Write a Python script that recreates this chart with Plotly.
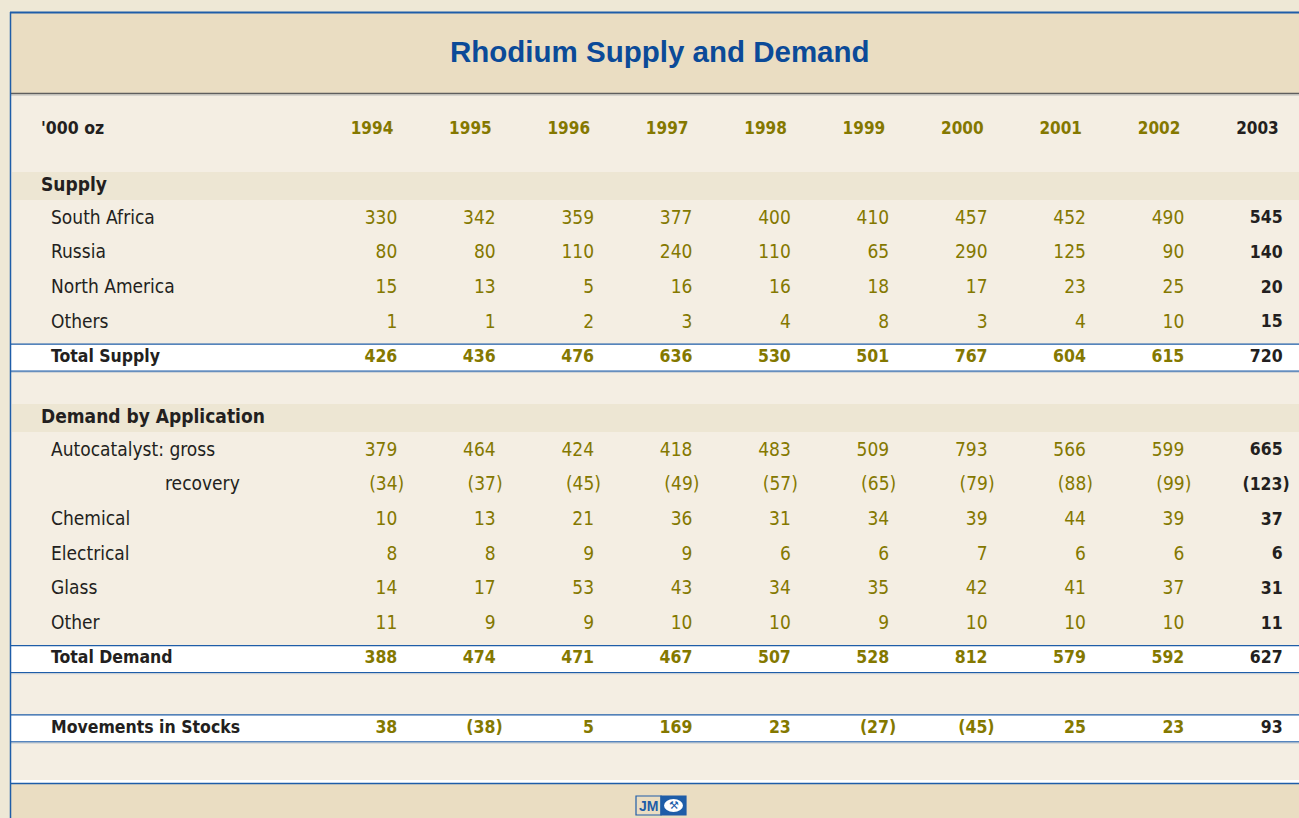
import plotly.graph_objects as go

# Rhodium supply and demand, '000 oz
years = [1994, 1995, 1996, 1997, 1998, 1999, 2000, 2001, 2002, 2003]

south_africa = [330, 342, 359, 377, 400, 410, 457, 452, 490, 545]
russia = [80, 80, 110, 240, 110, 65, 290, 125, 90, 140]
north_america = [15, 13, 5, 16, 16, 18, 17, 23, 25, 20]
others_supply = [1, 1, 2, 3, 4, 8, 3, 4, 10, 15]
total_supply = [426, 436, 476, 636, 530, 501, 767, 604, 615, 720]

autocat_gross = [379, 464, 424, 418, 483, 509, 793, 566, 599, 665]
autocat_recovery = [-34, -37, -45, -49, -57, -65, -79, -88, -99, -123]
chemical = [10, 13, 21, 36, 31, 34, 39, 44, 39, 37]
electrical = [8, 8, 9, 9, 6, 6, 7, 6, 6, 6]
glass = [14, 17, 53, 43, 34, 35, 42, 41, 37, 31]
other_demand = [11, 9, 9, 10, 10, 9, 10, 10, 10, 11]
total_demand = [388, 474, 471, 467, 507, 528, 812, 579, 592, 627]

stock_movements = [38, -38, 5, 169, 23, -27, -45, 25, 23, 93]

# table structure: (kind, label, values)
rows = [
    ("section", "Supply", None),
    ("item", "South Africa", south_africa),
    ("item", "Russia", russia),
    ("item", "North America", north_america),
    ("item", "Others", others_supply),
    ("total", "Total Supply", total_supply),
    ("spacer", "", None),
    ("section", "Demand by Application", None),
    ("item", "Autocatalyst: gross", autocat_gross),
    ("subitem", "recovery", autocat_recovery),
    ("item", "Chemical", chemical),
    ("item", "Electrical", electrical),
    ("item", "Glass", glass),
    ("item", "Other", other_demand),
    ("total", "Total Demand", total_demand),
    ("spacer2", "", None),
    ("total", "Movements in Stocks", stock_movements),
]

# colours / fonts
OUTER = "#EEE8D6"
BAND = "#EADDC2"
BODY = "#F4EEE3"
SECTION = "#EDE6D3"
BLUE = "#1E5DA8"
TITLE_BLUE = "#0B4A98"
OLIVE = "#847800"
DARK = "#231F20"
FONT = "DejaVu Sans Condensed, Liberation Sans Narrow, sans-serif"

REG = 19      # regular rows
BOLD = 17.5   # bold totals
HEAD = 17     # year headings

W, H = 1299, 818
heights = {"section": 28, "item": 34.7, "subitem": 34.7, "total": 34.7,
           "spacer": 29, "spacer2": 34.7}

col_right = [397.3 + i * 98.38 for i in range(len(years))]
paren = 7

fig = go.Figure()
shapes = []

# frame, title band, body, footer
shapes.append(dict(type="rect", x0=10, x1=W + 5, y0=12, y1=94, fillcolor=BAND, line_width=0, layer="below"))
shapes.append(dict(type="rect", x0=11, x1=W + 5, y0=95, y1=781, fillcolor=BODY, line_width=0, layer="below"))
shapes.append(dict(type="rect", x0=11, x1=W + 5, y0=780, y1=783, fillcolor="white", line_width=0, layer="below"))
shapes.append(dict(type="rect", x0=10, x1=W + 5, y0=784, y1=H + 5, fillcolor=BAND, line_width=0, layer="below"))
shapes.append(dict(type="line", x0=10, x1=W + 5, y0=12.5, y1=12.5, line=dict(color=BLUE, width=2)))
shapes.append(dict(type="line", x0=10, x1=W + 5, y0=93.5, y1=93.5, line=dict(color="#5E5E5E", width=1.5)))
shapes.append(dict(type="line", x0=10, x1=W + 5, y0=95, y1=95, line=dict(color="#B8B8B8", width=1)))
shapes.append(dict(type="line", x0=10, x1=W + 5, y0=783.5, y1=783.5, line=dict(color=BLUE, width=1.5)))

groups = {}


def add_text(key, x, y, text, pos):
    g = groups.setdefault(key, dict(x=[], y=[], text=[], pos=[]))
    g["x"].append(x)
    g["y"].append(y)
    g["text"].append(text)
    g["pos"].append(pos)


def fmt(v):
    return f"({-v})" if v < 0 else str(v)


# header row
header_y = 130
add_text((BOLD, "bold", DARK), 41, header_y, "'000 oz", "middle right")
for i, yr in enumerate(years):
    colr = DARK if i == len(years) - 1 else OLIVE
    add_text((HEAD, "bold", colr), col_right[i] - 4, header_y, str(yr), "middle left")

y = 172
for kind, label, vals in rows:
    h = heights[kind]
    yc = y + h / 2
    if kind == "section":
        shapes.append(dict(type="rect", x0=12, x1=W + 5, y0=y, y1=y + h, fillcolor=SECTION, line_width=0, layer="below"))
        add_text((REG, "bold", DARK), 41, yc, label, "middle right")
        y += 1.5
    elif kind in ("item", "subitem"):
        lx = 165 if kind == "subitem" else 51
        add_text((REG, "normal", DARK), lx, yc, label, "middle right")
    elif kind == "total":
        b0, b1 = yc - 13.5, yc + 13.5
        shapes.append(dict(type="rect", x0=11, x1=W + 5, y0=b0, y1=b1, fillcolor="white", line_width=0, layer="below"))
        shapes.append(dict(type="line", x0=10, x1=W + 5, y0=b0, y1=b0, line=dict(color=BLUE, width=1.2)))
        shapes.append(dict(type="line", x0=10, x1=W + 5, y0=b1, y1=b1, line=dict(color=BLUE, width=1.2)))
        shapes.append(dict(type="line", x0=10, x1=W + 5, y0=b1 + 1.2, y1=b1 + 1.2, line=dict(color="#C9CFD6", width=1)))
        add_text((BOLD, "bold", DARK), 51, yc, label, "middle right")
    if vals is not None:
        for i, v in enumerate(vals):
            last = i == len(vals) - 1
            bold = kind == "total" or last
            colr = DARK if last else OLIVE
            xr = col_right[i] + (paren if v < 0 else 0)
            key = (BOLD, "bold", colr) if bold else (REG, "normal", colr)
            add_text(key, xr, yc, fmt(v), "middle left")
    y += h

# left frame line
shapes.append(dict(type="line", x0=10.5, x1=10.5, y0=12, y1=H + 5, line=dict(color=BLUE, width=1.5)))

# JM logo
shapes.append(dict(type="rect", x0=636, x1=661, y0=796, y1=815, fillcolor=BAND, line=dict(color=BLUE, width=1.2)))
shapes.append(dict(type="rect", x0=661, x1=686, y0=796, y1=815, fillcolor=BLUE, line=dict(color=BLUE, width=1.2)))
shapes.append(dict(type="circle", x0=664, x1=683, y0=799, y1=812, fillcolor="white", line_width=0))

for (size, weight, colr), g in groups.items():
    fig.add_trace(go.Scatter(
        x=g["x"], y=g["y"], text=g["text"], mode="text", textposition=g["pos"],
        textfont=dict(family=FONT, size=size, color=colr, weight=weight),
        hoverinfo="skip", showlegend=False, cliponaxis=False,
    ))

fig.add_annotation(x=660, y=51, xref="x", yref="y", text="<b>Rhodium Supply and Demand</b>",
                   showarrow=False, font=dict(family="Liberation Sans, Arial, sans-serif", size=29.5, color=TITLE_BLUE))
fig.add_annotation(x=648.5, y=805.5, xref="x", yref="y", text="<b>JM</b>", showarrow=False,
                   font=dict(family="Liberation Sans, Arial, sans-serif", size=14, color=BLUE))
fig.add_annotation(x=673.5, y=805.5, xref="x", yref="y", text="⚒", showarrow=False,
                   font=dict(family="DejaVu Sans", size=11, color=BLUE))

fig.update_layout(
    width=W, height=H,
    margin=dict(l=0, r=0, t=0, b=0),
    paper_bgcolor=OUTER, plot_bgcolor="rgba(0,0,0,0)",
    xaxis=dict(range=[0, W], visible=False, fixedrange=True),
    yaxis=dict(range=[H, 0], visible=False, fixedrange=True),
    shapes=shapes,
)

fig.write_html("out.html", config={"displayModeBar": False},
               post_script="document.body.style.margin='0';document.body.style.padding='0';")
